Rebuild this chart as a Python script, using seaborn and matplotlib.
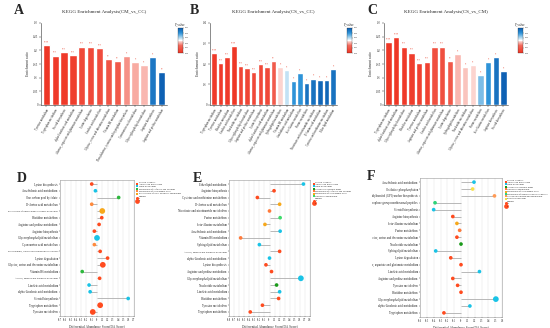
import numpy as np
import pandas as pd
import matplotlib
matplotlib.use("Agg")
import matplotlib.pyplot as plt
import seaborn as sns
from matplotlib.colors import LinearSegmentedColormap, Normalize
from matplotlib.cm import ScalarMappable
from matplotlib.lines import Line2D
from matplotlib.transforms import Bbox

sns.set_theme(style="white")
plt.rcParams['font.family'] = ['Liberation Serif', 'DejaVu Serif']

# ---------------- data: bar panels ----------------
a_terms = ["Tyrosine metabolism", "Tryptophan metabolism", "Steroid biosynthesis",
           "alpha-Linolenic acid metabolism", "Alanine, aspartate and glutamate metabolism",
           "Lysine degradation", "Linoleic acid metabolism", "Glycine, serine and threonine metabolism",
           "Vitamin B6 metabolism", "Phenylalanine, tyrosine and tryptophan biosynthesis",
           "Cyanoamino acid metabolism", "Glycerophospholipid metabolism",
           "Arginine biosynthesis", "Arginine and proline metabolism"]
a_ratio = [0.220, 0.181, 0.195, 0.184, 0.214, 0.214, 0.208, 0.168, 0.162, 0.178, 0.157, 0.145, 0.175, 0.119]
a_p = [0.001, 0.002, 0.002, 0.003, 0.006, 0.006, 0.007, 0.009, 0.010, 0.018, 0.020, 0.021, 0.045, 0.049]
a_sig = ["****", "***", "***", "***", "***", "***", "***", "**", "**", "*", "*", "*", "*", "**"]

b_terms = ["Tryptophan metabolism", "Tyrosine metabolism", "Histidine metabolism",
           "Linoleic acid metabolism", "Nucleotide metabolism", "Glycerophospholipid metabolism",
           "Arginine and proline metabolism", "Lysine biosynthesis", "alpha-Linolenic acid metabolism",
           "Alanine, aspartate and glutamate metabolism", "Sphingolipid metabolism", "Vitamin B6 metabolism",
           "Arachidonic acid metabolism", "beta-Alanine metabolism", "Purine metabolism",
           "Nicotinate and nicotinamide metabolism", "D-Amino acid metabolism",
           "Cysteine and methionine metabolism", "Ether lipid metabolism"]
b_ratio = [0.253, 0.204, 0.233, 0.286, 0.191, 0.180, 0.160, 0.199, 0.183, 0.214,
           0.183, 0.171, 0.119, 0.158, 0.108, 0.129, 0.121, 0.121, 0.175]
b_p = [0.002, 0.002, 0.002, 0.001, 0.005, 0.005, 0.006, 0.006, 0.006, 0.011,
       0.023, 0.029, 0.040, 0.040, 0.046, 0.046, 0.048, 0.048, 0.046]
b_sig = ["****", "***", "***", "****", "***", "***", "***", "***", "***", "**",
         "*", "*", "*", "*", "*", "*", "*", "*", "*"]

c_terms = ["Tryptophan metabolism", "alpha-Linolenic acid metabolism", "Glycerophospholipid metabolism",
           "Histidine metabolism", "Tyrosine metabolism", "Arginine and proline metabolism",
           "Linoleic acid metabolism", "Alanine, aspartate and glutamate metabolism", "Lysine degradation",
           "Sphingolipid metabolism", "Nucleotide metabolism", "Glycine, serine and threonine metabolism",
           "Purine metabolism", "beta-Alanine metabolism", "Arginine biosynthesis", "Steroid biosynthesis"]
c_ratio = [0.229, 0.250, 0.214, 0.192, 0.153, 0.159, 0.214, 0.214, 0.160, 0.186,
           0.138, 0.146, 0.108, 0.157, 0.174, 0.124]
c_p = [0.001, 0.001, 0.002, 0.003, 0.004, 0.004, 0.008, 0.008, 0.010, 0.021,
       0.022, 0.023, 0.034, 0.040, 0.046, 0.049]
c_sig = ["****", "****", "***", "***", "***", "***", "***", "***", "**", "*",
         "*", "*", "*", "*", "*", "*"]

# ---------------- data: lollipop panels ----------------
d_terms = ["Lysine biosynthesis", "Arachidonic acid metabolism", "One carbon pool by folate",
           "D-Amino acid metabolism", "Biosynthesis of various plant secondary metabolites",
           "Histidine metabolism", "Arginine and proline metabolism", "Arginine biosynthesis",
           "Glycerophospholipid metabolism", "Cyanoamino acid metabolism",
           "Phenylalanine, tyrosine and tryptophan biosynthesis", "Lysine degradation",
           "Glycine, serine and threonine metabolism", "Vitamin B6 metabolism",
           "Alanine, aspartate and glutamate metabolism", "Linoleic acid metabolism",
           "alpha-Linolenic acid metabolism", "Steroid biosynthesis",
           "Tryptophan metabolism", "Tyrosine metabolism"]
d_score = [-0.10, -0.03, 0.41, -0.10, 0.10, 0.09, 0.04, -0.05, 0.00, -0.05,
           0.06, 0.20, 0.11, -0.28, 0.05, -0.15, -0.13, 0.59, 0.06, -0.08]
d_cat = ["Amino acid metabolism", "Lipid metabolism", "Metabolism of cofactors and vitamins",
         "Metabolism of other amino acids", "Biosynthesis of other secondary metabolites",
         "Amino acid metabolism", "Amino acid metabolism", "Amino acid metabolism",
         "Lipid metabolism", "Metabolism of other amino acids", "Amino acid metabolism",
         "Amino acid metabolism", "Amino acid metabolism", "Metabolism of cofactors and vitamins",
         "Amino acid metabolism", "Lipid metabolism", "Lipid metabolism", "Lipid metabolism",
         "Amino acid metabolism", "Amino acid metabolism"]
d_num = [2, 2, 2, 2, 4, 2, 2, 2, 4, 2, 2, 2, 4, 2, 2, 2, 2, 2, 4, 4]
d_order = ["Amino acid metabolism", "Lipid metabolism", "Metabolism of cofactors and vitamins",
           "Metabolism of other amino acids", "Biosynthesis of other secondary metabolites"]

e_terms = ["Ether lipid metabolism", "Arginine biosynthesis", "Cysteine and methionine metabolism",
           "D-Amino acid metabolism", "Nicotinate and nicotinamide metabolism", "Purine metabolism",
           "beta-Alanine metabolism", "Arachidonic acid metabolism", "Vitamin B6 metabolism",
           "Sphingolipid metabolism", "Alanine, aspartate and glutamate metabolism",
           "alpha-Linolenic acid metabolism", "Lysine biosynthesis", "Arginine and proline metabolism",
           "Glycerophospholipid metabolism", "Nucleotide metabolism", "Linoleic acid metabolism",
           "Histidine metabolism", "Tyrosine metabolism", "Tryptophan metabolism"]
e_score = [0.67, 0.09, -0.24, 0.20, 0.00, 0.21, -0.09, 0.21, -0.57, -0.20,
           0.20, 0.00, -0.07, 0.04, 0.62, 0.14, 0.20, 0.18, -0.14, -0.38]
e_cat = ["Lipid metabolism", "Amino acid metabolism", "Amino acid metabolism",
         "Metabolism of other amino acids", "Metabolism of cofactors and vitamins",
         "Nucleotide metabolism", "Metabolism of other amino acids", "Lipid metabolism",
         "Metabolism of cofactors and vitamins", "Lipid metabolism", "Amino acid metabolism",
         "Lipid metabolism", "Amino acid metabolism", "Amino acid metabolism", "Lipid metabolism",
         "Global and overview maps", "Lipid metabolism", "Amino acid metabolism",
         "Amino acid metabolism", "Amino acid metabolism"]
e_num = [2, 2, 2, 2, 2, 2, 2, 2, 2, 2, 2, 2, 2, 2, 4, 2, 2, 2, 2, 2]
e_order = ["Amino acid metabolism", "Lipid metabolism", "Global and overview maps",
           "Metabolism of cofactors and vitamins", "Metabolism of other amino acids",
           "Nucleotide metabolism"]

f_terms = ["Arachidonic acid metabolism", "Oxidative phosphorylation",
           "Glycosylphosphatidylinositol (GPI)-anchor biosynthesis",
           "Biosynthesis of siderophore group nonribosomal peptides", "Steroid biosynthesis",
           "Arginine biosynthesis", "beta-Alanine metabolism", "Purine metabolism",
           "Glycine, serine and threonine metabolism", "Nucleotide metabolism",
           "Sphingolipid metabolism", "Lysine degradation",
           "Alanine, aspartate and glutamate metabolism", "Linoleic acid metabolism",
           "Arginine and proline metabolism", "Tyrosine metabolism", "Histidine metabolism",
           "Glycerophospholipid metabolism", "alpha-Linolenic acid metabolism", "Tryptophan metabolism"]
f_score = [0.19, 0.17, 0.49, -0.38, -0.40, -0.12, -0.06, -0.02, -0.06, 0.00,
           -0.37, -0.15, 0.00, 0.27, -0.12, -0.05, 0.00, 0.51, 0.13, -0.25]
f_cat = ["Lipid metabolism", "Energy metabolism", "Glycan biosynthesis and metabolism",
         "Metabolism of terpenoids and polyketides", "Lipid metabolism", "Amino acid metabolism",
         "Metabolism of other amino acids", "Nucleotide metabolism", "Amino acid metabolism",
         "Global and overview maps", "Lipid metabolism", "Amino acid metabolism",
         "Amino acid metabolism", "Lipid metabolism", "Amino acid metabolism",
         "Amino acid metabolism", "Amino acid metabolism", "Lipid metabolism",
         "Lipid metabolism", "Amino acid metabolism"]
f_num = [2, 2, 2, 2, 2, 2, 2, 2, 2, 2, 2, 2, 2, 2, 2, 2, 2, 4, 2, 2]
f_order = ["Amino acid metabolism", "Lipid metabolism", "Global and overview maps",
           "Nucleotide metabolism", "Metabolism of other amino acids",
           "Metabolism of terpenoids and polyketides", "Glycan biosynthesis and metabolism",
           "Energy metabolism"]

cat_colors = {
    "Amino acid metabolism": "#ff4b1f",
    "Lipid metabolism": "#19c3e6",
    "Metabolism of cofactors and vitamins": "#2db83d",
    "Metabolism of other amino acids": "#ff8a3d",
    "Biosynthesis of other secondary metabolites": "#f7a81b",
    "Global and overview maps": "#1a9a1a",
    "Nucleotide metabolism": "#ff7a3a",
    "Metabolism of terpenoids and polyketides": "#2ed37a",
    "Glycan biosynthesis and metabolism": "#ff9a55",
    "Energy metabolism": "#f5e04a",
}
e_colors = dict(cat_colors)
e_colors["Metabolism of cofactors and vitamins"] = "#ff7a3a"
e_colors["Metabolism of other amino acids"] = "#f7a81b"
e_colors["Nucleotide metabolism"] = "#3ddc6a"
f_colors = dict(cat_colors)
f_colors["Metabolism of other amino acids"] = "#f7a81b"

cmap = LinearSegmentedColormap.from_list(
    "pv", [(0.0, "#ee3322"), (0.3, "#f26a5c"), (0.45, "#fbcbc5"), (0.5, "#ffffff"),
           (0.6, "#b3dbf2"), (0.8, "#2e93d8"), (1.0, "#0a5cb0")])
norm = Normalize(0, 0.05)

W, H = 550, 328
fig = plt.figure(figsize=(W / 100, H / 100), dpi=100)


def rect(x0, y0, x1, y1):
    return [x0 / W, 1 - y1 / H, (x1 - x0) / W, (y1 - y0) / H]


def bar_panel(r, cbr, terms, ratio, pvals, sig, title, ymax, ystep, letter, lpos):
    ax = fig.add_axes(rect(*r))
    df = pd.DataFrame({"term": terms, "ratio": ratio, "p": pvals})
    cols = [cmap(norm(p)) for p in pvals]
    sns.barplot(data=df, x="term", y="ratio", hue="term", palette=cols, legend=False,
                ax=ax, width=0.82, saturation=1)
    for i, (v, s) in enumerate(zip(ratio, sig)):
        ax.text(i, v + ymax * 0.008, s, ha="center", va="bottom", fontsize=1.8, color="#e8402c")
    ax.set_ylim(0, ymax)
    yt = np.arange(0, ymax + 1e-9, ystep)
    ax.set_yticks(yt)
    ax.set_yticklabels([f"{t:g}" for t in yt], fontsize=2.2)
    ax.set_xlim(-0.6, len(terms) - 0.4)
    ax.set_xticks(range(len(terms)))
    ax.set_xticklabels(terms, rotation=60, ha="right", rotation_mode="anchor", fontsize=2.0)
    ax.set_xlabel("")
    ax.set_ylabel("Enrichment ratio", fontsize=2.6, labelpad=2)
    ax.set_title(title, fontsize=3.6, pad=7)
    for s in ["top", "right"]:
        ax.spines[s].set_visible(False)
    for s in ["left", "bottom"]:
        ax.spines[s].set_color("#333333")
        ax.spines[s].set_linewidth(0.4)
    ax.tick_params(axis="both", length=1.2, width=0.3, pad=1, left=True, bottom=True)
    cax = fig.add_axes(rect(*cbr))
    cb = fig.colorbar(ScalarMappable(norm=norm, cmap=cmap), cax=cax)
    cb.set_ticks([0, 0.01, 0.02, 0.03, 0.04, 0.05])
    cb.ax.tick_params(labelsize=1.6, length=0.8, width=0.2, pad=0.5)
    cb.outline.set_linewidth(0.2)
    cax.set_title("P_value", fontsize=2.3, pad=2)
    fig.text(lpos[0] / W, 1 - lpos[1] / H, letter, fontsize=10, fontweight="bold",
             ha="left", va="center")


def lollipop_panel(r, terms, score, cats, nums, order, colors, xlim, step, letter, lpos,
                   clip_left=None):
    ax = fig.add_axes(rect(*r))
    n = len(terms)
    df = pd.DataFrame({"term": terms, "DA Score": score, "Second Category": cats,
                       "Number": nums, "pos": np.arange(n)})
    ticks = np.round(np.arange(-xlim, xlim + 1e-9, step), 2)
    for t in ticks:
        ax.axvline(t, color="#e6e6e6", lw=0.35, zorder=0)
    ax.hlines(df["pos"], 0, df["DA Score"], color="#b8b8b8", lw=0.7, zorder=1)
    sns.scatterplot(data=df, x="DA Score", y="pos", hue="Second Category", hue_order=order,
                    palette=colors, size="Number", sizes=(7, 17), size_norm=(2, 4),
                    edgecolor="none", linewidth=0, ax=ax, zorder=3, legend=False)
    ax.set_ylim(n - 0.4, -0.6)
    ax.set_yticks(range(n))
    ax.set_yticklabels(terms, fontsize=2.2)
    if clip_left is None:
        for lbl in ax.get_yticklabels():
            if len(lbl.get_text()) > 42:
                lbl.set_fontsize(1.75)
    ax.set_xlim(-xlim, xlim)
    ax.set_xticks(ticks)
    ax.set_xticklabels([f"{t:g}" for t in ticks], fontsize=1.8)
    ax.set_ylabel("")
    ax.set_xlabel("Differential Abundance Score(DA Score)", fontsize=2.4, labelpad=1.0)
    for s in ax.spines.values():
        s.set_color("#999999")
        s.set_linewidth(0.4)
    ax.tick_params(axis="both", length=0.8, width=0.3, pad=0.8, left=True, bottom=True)
    ax.grid(False)
    # legend
    handles = [Line2D([], [], ls="", marker="", label="Second Category")]
    for c in order:
        handles.append(Line2D([], [], ls="", marker="s", markersize=2.0,
                              markerfacecolor=colors[c], markeredgewidth=0, label=c))
    handles.append(Line2D([], [], ls="", marker="", label="Number"))
    for v, ms in zip(sorted(set(nums)), (2.2, 3.4)):
        handles.append(Line2D([], [], ls="", marker="o", markersize=ms,
                              markerfacecolor="#ff4b1f", markeredgewidth=0, label=str(v)))
    ax.legend(handles=handles, loc="upper left", bbox_to_anchor=(1.02, 1.0), frameon=False,
              fontsize=1.7, handletextpad=0.4, labelspacing=0.3, borderaxespad=0,
              handlelength=0.8)
    if clip_left is not None:
        bb = Bbox.from_extents(clip_left, 0, W, H)
        for lbl in ax.get_yticklabels():
            lbl.set_clip_box(bb)
            lbl.set_clip_on(True)
    fig.text(lpos[0] / W, 1 - lpos[1] / H, letter, fontsize=10, fontweight="bold",
             ha="left", va="center")


bar_panel((41, 23, 167, 105), (178, 28, 183, 53), a_terms, a_ratio, a_p, a_sig,
          "KEGG Enrichment Analysis(CM_vs_CC)", 0.3, 0.05, "A", (14, 10))
bar_panel((210, 23, 337, 105), (347, 28, 352, 53), b_terms, b_ratio, b_p, b_sig,
          "KEGG Enrichment Analysis(CS_vs_CC)", 0.4, 0.1, "B", (190, 10))
bar_panel((384, 23, 508, 105), (518, 28, 523, 53), c_terms, c_ratio, c_p, c_sig,
          "KEGG Enrichment Analysis(CS_vs_CM)", 0.3, 0.05, "C", (367, 10))

lollipop_panel((60, 180, 134, 316), d_terms, d_score, d_cat, d_num, d_order, cat_colors,
               0.7, 0.1, "D", (17, 178))
lollipop_panel((229, 180, 310, 316), e_terms, e_score, e_cat, e_num, e_order, e_colors,
               0.8, 0.1, "E", (193, 178))
lollipop_panel((420, 178, 502, 317), f_terms, f_score, f_cat, f_num, f_order, f_colors,
               0.6, 0.1, "F", (367, 177), clip_left=372)

fig.savefig("out.png", dpi=100, facecolor="white")
